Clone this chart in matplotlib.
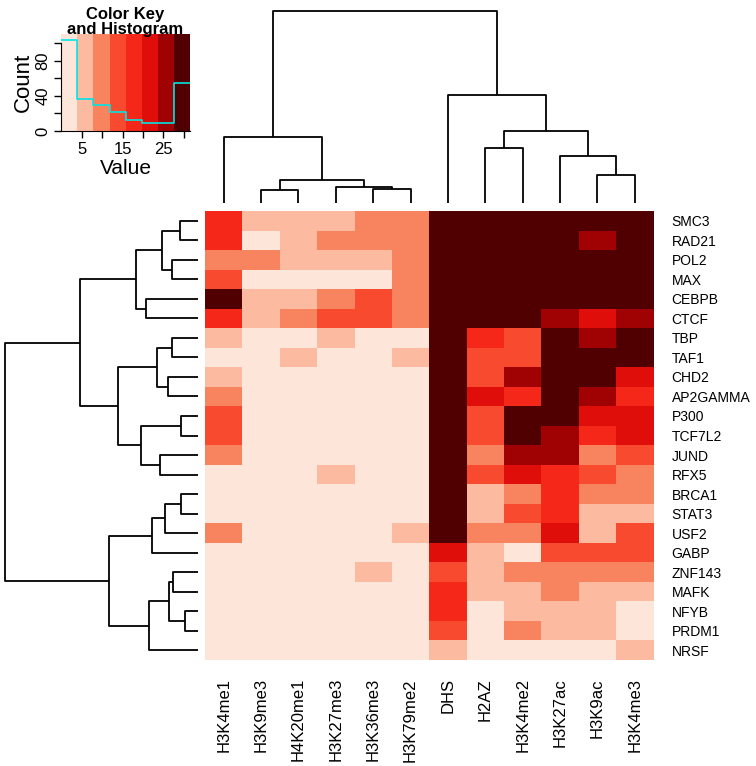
import numpy as np
import matplotlib
matplotlib.use("Agg")
import matplotlib.pyplot as plt
from matplotlib.colors import ListedColormap, BoundaryNorm

plt.rcParams['font.family'] = ['Liberation Sans', 'DejaVu Sans']

# ---- data
marks = ['H3K4me1', 'H3K9me3', 'H4K20me1', 'H3K27me3', 'H3K36me3', 'H3K79me2',
         'DHS', 'H2AZ', 'H3K4me2', 'H3K27ac', 'H3K9ac', 'H3K4me3']
factors = ['SMC3', 'RAD21', 'POL2', 'MAX', 'CEBPB', 'CTCF', 'TBP', 'TAF1', 'CHD2',
           'AP2GAMMA', 'P300', 'TCF7L2', 'JUND', 'RFX5', 'BRCA1', 'STAT3', 'USF2',
           'GABP', 'ZNF143', 'MAFK', 'NFYB', 'PRDM1', 'NRSF']

values = np.array([
    [18, 6, 6, 6, 10, 10, 30, 30, 30, 30, 30, 30],
    [18, 2, 6, 10, 10, 10, 30, 30, 30, 30, 26, 30],
    [10, 10, 6, 6, 6, 10, 30, 30, 30, 30, 30, 30],
    [14, 2, 2, 2, 2, 10, 30, 30, 30, 30, 30, 30],
    [30, 6, 6, 10, 14, 10, 30, 30, 30, 30, 30, 30],
    [18, 6, 10, 14, 14, 10, 30, 30, 30, 26, 22, 26],
    [6, 2, 2, 6, 2, 2, 30, 18, 14, 30, 26, 30],
    [2, 2, 6, 2, 2, 6, 30, 14, 14, 30, 30, 30],
    [6, 2, 2, 2, 2, 2, 30, 14, 26, 30, 30, 22],
    [10, 2, 2, 2, 2, 2, 30, 22, 18, 30, 26, 18],
    [14, 2, 2, 2, 2, 2, 30, 14, 30, 30, 22, 22],
    [14, 2, 2, 2, 2, 2, 30, 14, 30, 26, 18, 22],
    [10, 2, 2, 2, 2, 2, 30, 10, 26, 26, 10, 14],
    [2, 2, 2, 6, 2, 2, 30, 14, 22, 18, 14, 10],
    [2, 2, 2, 2, 2, 2, 30, 6, 10, 18, 10, 10],
    [2, 2, 2, 2, 2, 2, 30, 6, 14, 18, 6, 6],
    [10, 2, 2, 2, 2, 6, 30, 10, 10, 22, 6, 14],
    [2, 2, 2, 2, 2, 2, 22, 6, 2, 14, 14, 14],
    [2, 2, 2, 2, 6, 2, 14, 6, 10, 10, 10, 10],
    [2, 2, 2, 2, 2, 2, 18, 6, 6, 10, 6, 6],
    [2, 2, 2, 2, 2, 2, 18, 2, 6, 6, 6, 2],
    [2, 2, 2, 2, 2, 2, 14, 2, 10, 6, 6, 2],
    [2, 2, 2, 2, 2, 2, 6, 2, 2, 2, 2, 6],
])

key_colors = ['#FEE5D9', '#FCBBA1', '#F8835F', '#F84A2E', '#F42718',
              '#DF0E0B', '#A00204', '#500000']
breaks = np.linspace(0, 31.5, 9)

# dendrograms: (left, right, height), leaves are display positions
col_left = (0, ((1, 2, 38), (3, (4, 5, 43), 49), 68), 198)
col_right = (6, ((7, 8, 164), (9, (10, 11, 83), 140), 215), 326)
col_tree = (col_left, col_right, 578)

row_top = (((0, 1, 54), (2, 3, 78), 107), (4, 5, 155), 185)
row_mid = (((6, 7, 77), (8, 9, 89), 124), ((10, 11, 52), (12, 13, 114), 171), 240)
row_low1 = (((14, 15, 51), 16, 98), 17, 137)
row_low2 = (((18, 19, 74), (20, 21, 40), 88), 22, 146)
row_tree = ((row_top, row_mid, 355), (row_low1, row_low2, 267), 581)


def draw_tree(ax, node, horiz=False):
    # returns (leaf-axis position, height) of the node
    if isinstance(node, int):
        return node + 0.5, 0
    left, right, h = node
    p1, h1 = draw_tree(ax, left, horiz)
    p2, h2 = draw_tree(ax, right, horiz)
    xs = [p1, p1, p2, p2]
    ys = [h1, h, h, h2]
    if horiz:
        ax.plot(ys, xs, color='black', lw=1.3, clip_on=False, solid_capstyle='butt')
    else:
        ax.plot(xs, ys, color='black', lw=1.3, clip_on=False, solid_capstyle='butt')
    return (p1 + p2) / 2, h


W, H = 756, 766
fig = plt.figure(figsize=(W / 100, H / 100), dpi=100)


def box(x0, y0, x1, y1):
    # pixel box (top-left origin) -> figure fraction
    return [x0 / W, 1 - y1 / H, (x1 - x0) / W, (y1 - y0) / H]


cmap = ListedColormap(key_colors)
norm = BoundaryNorm(breaks, cmap.N)

# ---- heatmap
ax = fig.add_axes(box(205, 211, 653.5, 660))
ax.pcolormesh(np.arange(len(marks) + 1), np.arange(len(factors) + 1), values,
              cmap=cmap, norm=norm)
ax.set_xlim(0, len(marks))
ax.set_ylim(len(factors), 0)
ax.set_xticks(np.arange(len(marks)) + 0.5)
ax.set_xticklabels(marks, rotation=90, fontsize=12)
ax.set_yticks(np.arange(len(factors)) + 0.5)
ax.set_yticklabels(factors, fontsize=10)
ax.yaxis.tick_right()
ax.tick_params(axis='x', length=0, pad=13)
ax.tick_params(axis='y', length=0, pad=13)
for s in ax.spines.values():
    s.set_visible(False)

# ---- column dendrogram
axc = fig.add_axes(box(205, 10.7, 653.5, 203))
draw_tree(axc, col_tree)
axc.set_xlim(0, len(marks))
axc.set_ylim(0, 578)
axc.axis('off')

# ---- row dendrogram
axr = fig.add_axes(box(4.7, 211, 198, 660))
draw_tree(axr, row_tree, horiz=True)
axr.set_xlim(581, 0)
axr.set_ylim(len(factors), 0)
axr.axis('off')

# ---- colour key with histogram
axk = fig.add_axes(box(61.3, 34.3, 190, 131))
for i in range(len(key_colors)):
    axk.axvspan(breaks[i], breaks[i + 1], color=key_colors[i], lw=0)
counts, _ = np.histogram(values.ravel(), bins=breaks)
axk.step(breaks, np.append(counts, counts[-1]), where='post', color='#00E5E5', lw=1.2)
axk.set_xlim(breaks[0], breaks[-1])
axk.set_ylim(0, 110)
axk.set_xticks([5, 10, 15, 20, 25, 30])
axk.set_xticklabels(['5', '', '15', '', '25', ''], fontsize=12)
axk.set_yticks([0, 20, 40, 60, 80, 100])
axk.set_yticklabels(['0', '', '40', '', '80', ''], fontsize=12, rotation=90, va='center')
axk.tick_params(length=5, width=1, pad=3)
axk.spines['top'].set_visible(False)
axk.spines['right'].set_visible(False)
axk.spines['left'].set_bounds(0, 100)
axk.set_xlabel('Value', fontsize=15, labelpad=1)
axk.set_ylabel('Count', fontsize=16, labelpad=1)
fig.text(125 / W, 1 - 37 / H, 'Color Key\nand Histogram', ha='center', va='bottom',
         fontsize=12, fontweight='bold', linespacing=1.0)

fig.savefig('out.png', dpi=100)
